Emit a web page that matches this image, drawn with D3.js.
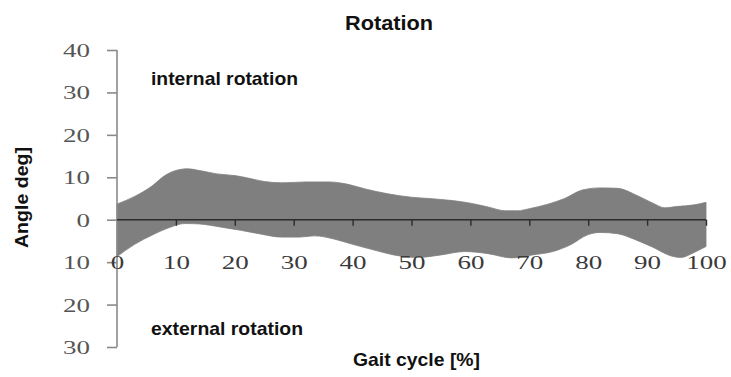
<!DOCTYPE html>
<html>
<head>
<meta charset="utf-8">
<script src="https://cdn.jsdelivr.net/npm/d3@7"></script>
<style>
  html, body { margin: 0; padding: 0; background: #fff; }
  svg { display: block; }
</style>
</head>
<body>
<svg id="chart" width="731" height="377"></svg>
<script>
// Hip rotation range over the gait cycle (degrees; positive = internal)
const cyclePctUpper = [0, 3, 6, 8, 10, 12, 14, 17, 20, 22, 25, 28, 32, 36, 39, 42, 46, 50, 53, 57, 60, 63, 66, 68, 70, 73, 76, 79, 82, 85, 88, 91, 93, 95, 98, 100];
const upperDeg      = [3.7, 5.5, 8.0, 10.3, 11.6, 12.0, 11.6, 10.8, 10.4, 9.9, 9.0, 8.7, 8.9, 8.9, 8.4, 7.3, 6.1, 5.3, 5.0, 4.5, 3.9, 3.0, 2.1, 2.1, 2.6, 3.6, 5.0, 7.0, 7.5, 7.4, 5.9, 3.9, 2.8, 3.1, 3.5, 4.1];
const cyclePctLower = [0, 3, 6, 9, 11.5, 14, 17.5, 21, 24.5, 28, 31, 33.5, 37, 40, 43.5, 47, 51, 55, 59, 63, 67, 70.5, 74, 77, 80, 82, 85, 88, 91, 94, 95.7, 98, 100];
const lowerDeg      = [-8.7, -5.8, -3.6, -1.8, -0.9, -1.0, -1.7, -2.5, -3.4, -4.1, -4.1, -3.8, -4.6, -5.8, -7.1, -8.3, -8.9, -8.3, -7.5, -8.0, -9.0, -8.3, -7.5, -5.9, -3.5, -3.0, -3.3, -4.7, -6.5, -8.5, -8.9, -7.7, -6.3];

const xTicks = [0, 10, 20, 30, 40, 50, 60, 70, 80, 90, 100];
const yTicks = [40, 30, 20, 10, 0, -10, -20, -30];

const serif = "'Liberation Serif', 'Times New Roman', Times, serif";
const sans = "'Liberation Sans', Arial, sans-serif";

const svg = d3.select("#chart");
const x = d3.scaleLinear().domain([0, 100]).range([117, 706]);
const y = d3.scaleLinear().domain([-30, 40]).range([347, 50]);

// Band: upper edge left to right, then lower edge back right to left
const edge = d3.line().curve(d3.curveMonotoneX);
const upperPts = cyclePctUpper.map((p, i) => [x(p), y(upperDeg[i])]);
const lowerPts = cyclePctLower.map((p, i) => [x(p), y(lowerDeg[i])]).reverse();
svg.append("path")
  .attr("d", edge(upperPts) + "L" + edge(lowerPts).slice(1) + "Z")
  .attr("fill", "#7f7f7f")
  .attr("stroke", "#7f7f7f")
  .attr("stroke-width", 0.8);

// Y axis (labels show magnitude on both sides of zero)
const yAxis = svg.append("g")
  .attr("transform", `translate(${x(0)},0)`)
  .call(d3.axisLeft(y).tickValues(yTicks).tickSize(10).tickFormat(d => Math.abs(d)))
  .attr("font-family", serif);
yAxis.select(".domain").attr("stroke", "#8a8a8a").attr("stroke-width", 1.6).attr("d", `M0,${y(40)}V${y(-30)}`);
yAxis.selectAll(".tick line").attr("stroke", "#8a8a8a").attr("stroke-width", 1.6);
yAxis.selectAll(".tick text")
  .style("font-family", serif)
  .attr("x", 0).attr("dy", null).attr("y", 6.5)
  .attr("transform", "translate(-27,0) scale(1.42,1)")
  .attr("font-size", 19)
  .attr("fill", "#555");

// X axis along zero
const xAxis = svg.append("g")
  .attr("transform", `translate(0,${y(0)})`)
  .call(d3.axisBottom(x).tickValues(xTicks).tickSize(6).tickFormat(d3.format("d")))
  .attr("font-family", serif);
xAxis.select(".domain").attr("stroke", "#2b2b2b").attr("stroke-width", 1.5).attr("d", `M${x(0)},0H${x(100)}`);
xAxis.selectAll(".tick line").attr("stroke", "#2b2b2b").attr("stroke-width", 1.4);
xAxis.selectAll(".tick text")
  .style("font-family", serif)
  .attr("y", y(-10) - y(0) + 6.5).attr("dy", null)
  .attr("transform", "scale(1.42,1)")
  .attr("font-size", 19)
  .attr("fill", "#3a3a3a");
xAxis.selectAll(".tick").filter(d => d === 0).select("line").remove();

// Title
svg.append("text").attr("x", 389).attr("y", 30)
  .attr("text-anchor", "middle").attr("font-family", sans).attr("font-weight", "bold")
  .attr("font-size", 20).attr("textLength", 88).attr("lengthAdjust", "spacingAndGlyphs")
  .attr("fill", "#111").text("Rotation");

// Region annotations
svg.append("text").attr("x", 151).attr("y", 85)
  .attr("font-family", sans).attr("font-weight", "bold").attr("font-size", 18.5)
  .attr("textLength", 147).attr("lengthAdjust", "spacingAndGlyphs")
  .attr("fill", "#111").text("internal rotation");
svg.append("text").attr("x", 151).attr("y", 335)
  .attr("font-family", sans).attr("font-weight", "bold").attr("font-size", 18.5)
  .attr("textLength", 152).attr("lengthAdjust", "spacingAndGlyphs")
  .attr("fill", "#111").text("external rotation");

// Axis titles
svg.append("text").attr("x", 416.5).attr("y", 366)
  .attr("text-anchor", "middle").attr("font-family", sans).attr("font-weight", "bold")
  .attr("font-size", 18.5).attr("textLength", 127).attr("lengthAdjust", "spacingAndGlyphs")
  .attr("fill", "#111").text("Gait cycle [%]");
svg.append("text")
  .attr("transform", "translate(28,197.5) rotate(-90)")
  .attr("text-anchor", "middle").attr("font-family", sans).attr("font-weight", "bold")
  .attr("font-size", 18.5).attr("textLength", 101).attr("lengthAdjust", "spacingAndGlyphs")
  .attr("fill", "#111").text("Angle deg]");
</script>
</body>
</html>
